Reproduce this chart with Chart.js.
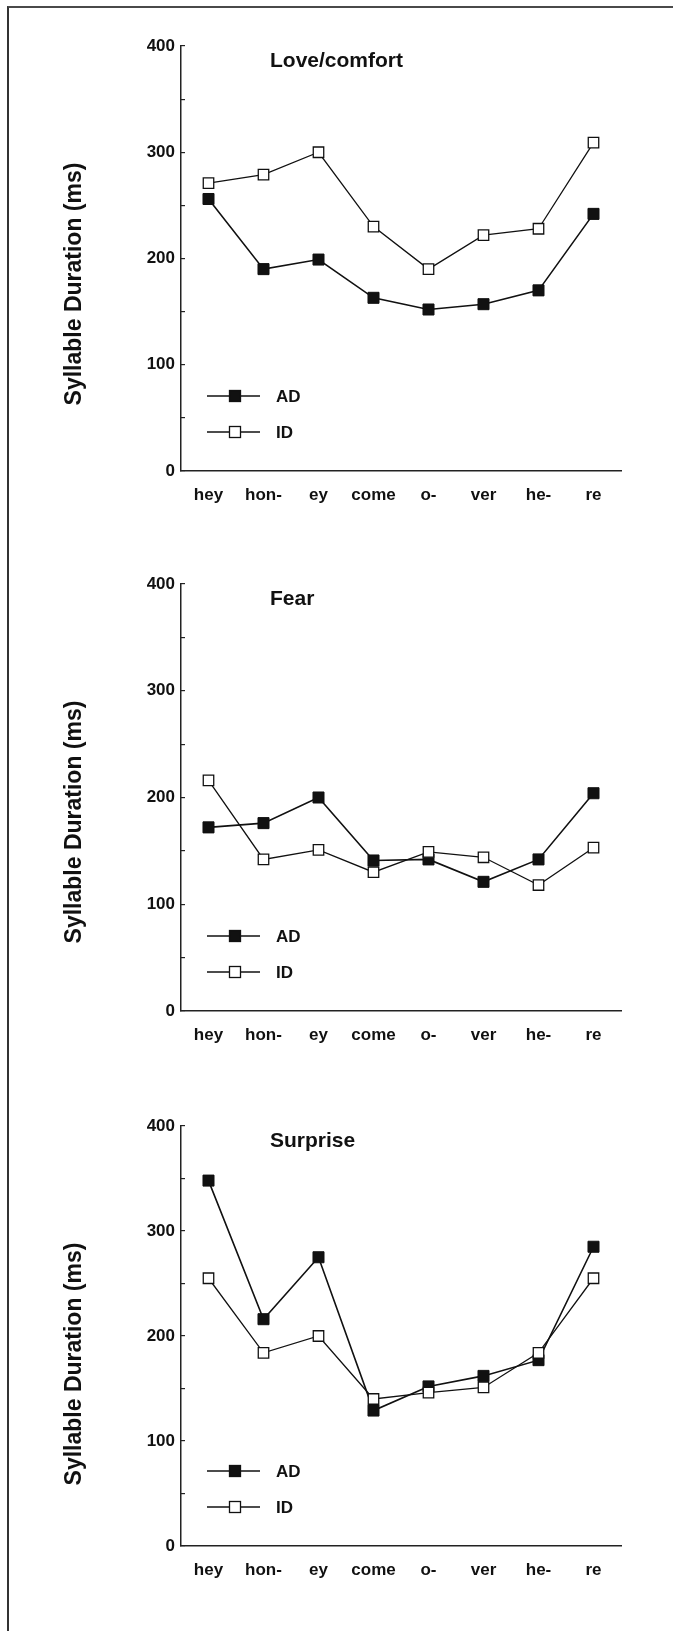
<!DOCTYPE html>
<html>
<head>
<meta charset="utf-8">
<title>Syllable Duration</title>
<script src="https://cdn.jsdelivr.net/npm/chart.js@4.4.1/dist/chart.umd.min.js"></script>
<style>
    html, body { margin: 0; padding: 0; background: #fff; }
    body { width: 673px; height: 1631px; position: relative; overflow: hidden; }
    .frame { position: absolute; left: 7px; top: 6px; right: 0; bottom: 0;
             border-top: 2px solid #4a4a4a; border-left: 2px solid #333; }
    canvas { position: absolute; left: 0; }
</style>
</head>
<body>
<div class="frame"></div>
<canvas id="chartLove"></canvas>
<canvas id="chartFear"></canvas>
<canvas id="chartSurprise"></canvas>

<script>
// syllables of "hey honey come over here"
const syllables = ["hey", "hon-", "ey", "come", "o-", "ver", "he-", "re"];

// mean syllable durations (ms)
const loveAD = [256, 190, 199, 163, 152, 157, 170, 242];
const loveID = [271, 279, 300, 230, 190, 222, 228, 309];
const fearAD = [172, 176, 200, 141, 142, 121, 142, 204];
const fearID = [216, 142, 151, 130, 149, 144, 118, 153];
const surpriseAD = [348, 216, 275, 129, 152, 162, 177, 285];
const surpriseID = [255, 184, 200, 140, 146, 151, 184, 255];

const seriesNames = ["AD", "ID"];
const panelTitles = ["Love/comfort", "Fear", "Surprise"];
const yTitle = "Syllable Duration (ms)";
const yMin = 0;
const yMax = 400;
const yLabelStep = 100;
const yMinorStep = 50;

const ink = "#111";
const tickFont = { family: "'Liberation Sans', Arial, sans-serif", size: 17, weight: "bold" };
const catFont = { family: "'Liberation Sans', Arial, sans-serif", size: 17, weight: "bold" };

// draws the title inside the plot, the rotated y title and the little legend
const panelText = {
    id: "panelText",
    afterDraw(chart, args, opts) {
        const ctx = chart.ctx;
        const a = chart.chartArea;
        ctx.save();
        ctx.fillStyle = ink;
        ctx.textBaseline = "middle";

        ctx.font = "bold 21px 'Liberation Sans', Arial, sans-serif";
        ctx.textAlign = "left";
        ctx.fillText(opts.title, a.left + 89, a.top + 15);

        ctx.save();
        ctx.translate(75, a.top + 238);
        ctx.rotate(-Math.PI / 2);
        ctx.textAlign = "center";
        ctx.font = "bold 23px 'Liberation Sans', Arial, sans-serif";
        ctx.fillText(yTitle, 0, 0);
        ctx.restore();

        chart.data.datasets.forEach((ds, i) => {
            const y = a.bottom - 75 + i * 36;
            ctx.strokeStyle = ds.borderColor;
            ctx.lineWidth = ds.borderWidth;
            ctx.beginPath();
            ctx.moveTo(a.left + 26, y);
            ctx.lineTo(a.left + 79, y);
            ctx.stroke();
            const s = 11;
            ctx.fillStyle = ds.pointBackgroundColor;
            ctx.fillRect(a.left + 54 - s / 2, y - s / 2, s, s);
            ctx.lineWidth = 1.3;
            ctx.strokeStyle = ds.pointBorderColor;
            ctx.strokeRect(a.left + 54 - s / 2, y - s / 2, s, s);
            ctx.fillStyle = ink;
            ctx.font = "bold 17px 'Liberation Sans', Arial, sans-serif";
            ctx.textAlign = "left";
            ctx.fillText(ds.label, a.left + 95, y + 1);
        });
        ctx.restore();
    }
};

function makePanel(canvasId, top, plotH, title, adValues, idValues) {
    const canvas = document.getElementById(canvasId);
    canvas.width = 673;
    canvas.height = 46 + plotH + 49;
    canvas.style.top = top + "px";

    return new Chart(canvas, {
        type: "line",
        data: {
            labels: syllables,
            datasets: [
                {
                    label: seriesNames[0],
                    data: adValues,
                    borderColor: "#111",
                    borderWidth: 1.6,
                    pointStyle: "rect",
                    pointRadius: 7.8,
                    pointBackgroundColor: "#111",
                    pointBorderColor: "#111",
                    pointBorderWidth: 1,
                    tension: 0,
                    order: 1
                },
                {
                    label: seriesNames[1],
                    data: idValues,
                    borderColor: "#111",
                    borderWidth: 1.3,
                    pointStyle: "rect",
                    pointRadius: 7.4,
                    pointBackgroundColor: "#fff",
                    pointBorderColor: "#111",
                    pointBorderWidth: 1.3,
                    tension: 0,
                    order: 0
                }
            ]
        },
        options: {
            responsive: false,
            animation: false,
            layout: { padding: { top: 46, right: 52, bottom: 0, left: 0 } },
            plugins: {
                legend: { display: false },
                tooltip: { enabled: false },
                title: { display: false },
                panelText: { title: title }
            },
            scales: {
                x: {
                    type: "category",
                    offset: true,
                    grid: { display: false },
                    border: { display: true, color: "#222", width: 1.5 },
                    ticks: { color: ink, font: catFont, padding: 6, maxRotation: 0, autoSkip: false },
                    afterFit: (scale) => { scale.height = 49; }
                },
                y: {
                    min: yMin,
                    max: yMax,
                    grid: { display: true, drawOnChartArea: false, drawTicks: true, tickLength: -4, color: "#222", lineWidth: 1.2 },
                    border: { display: true, color: "#222", width: 1.5 },
                    ticks: {
                        stepSize: yMinorStep,
                        color: ink,
                        font: tickFont,
                        padding: 10,
                        callback: (v) => (v % yLabelStep === 0 ? v : "")
                    },
                    afterFit: (scale) => { scale.width = 181; }
                }
            }
        },
        plugins: [panelText]
    });
}

makePanel("chartLove", 0, 425, panelTitles[0], loveAD, loveID);
makePanel("chartFear", 538, 427, panelTitles[1], fearAD, fearID);
makePanel("chartSurprise", 1080, 420, panelTitles[2], surpriseAD, surpriseID);
</script>
</body>
</html>
